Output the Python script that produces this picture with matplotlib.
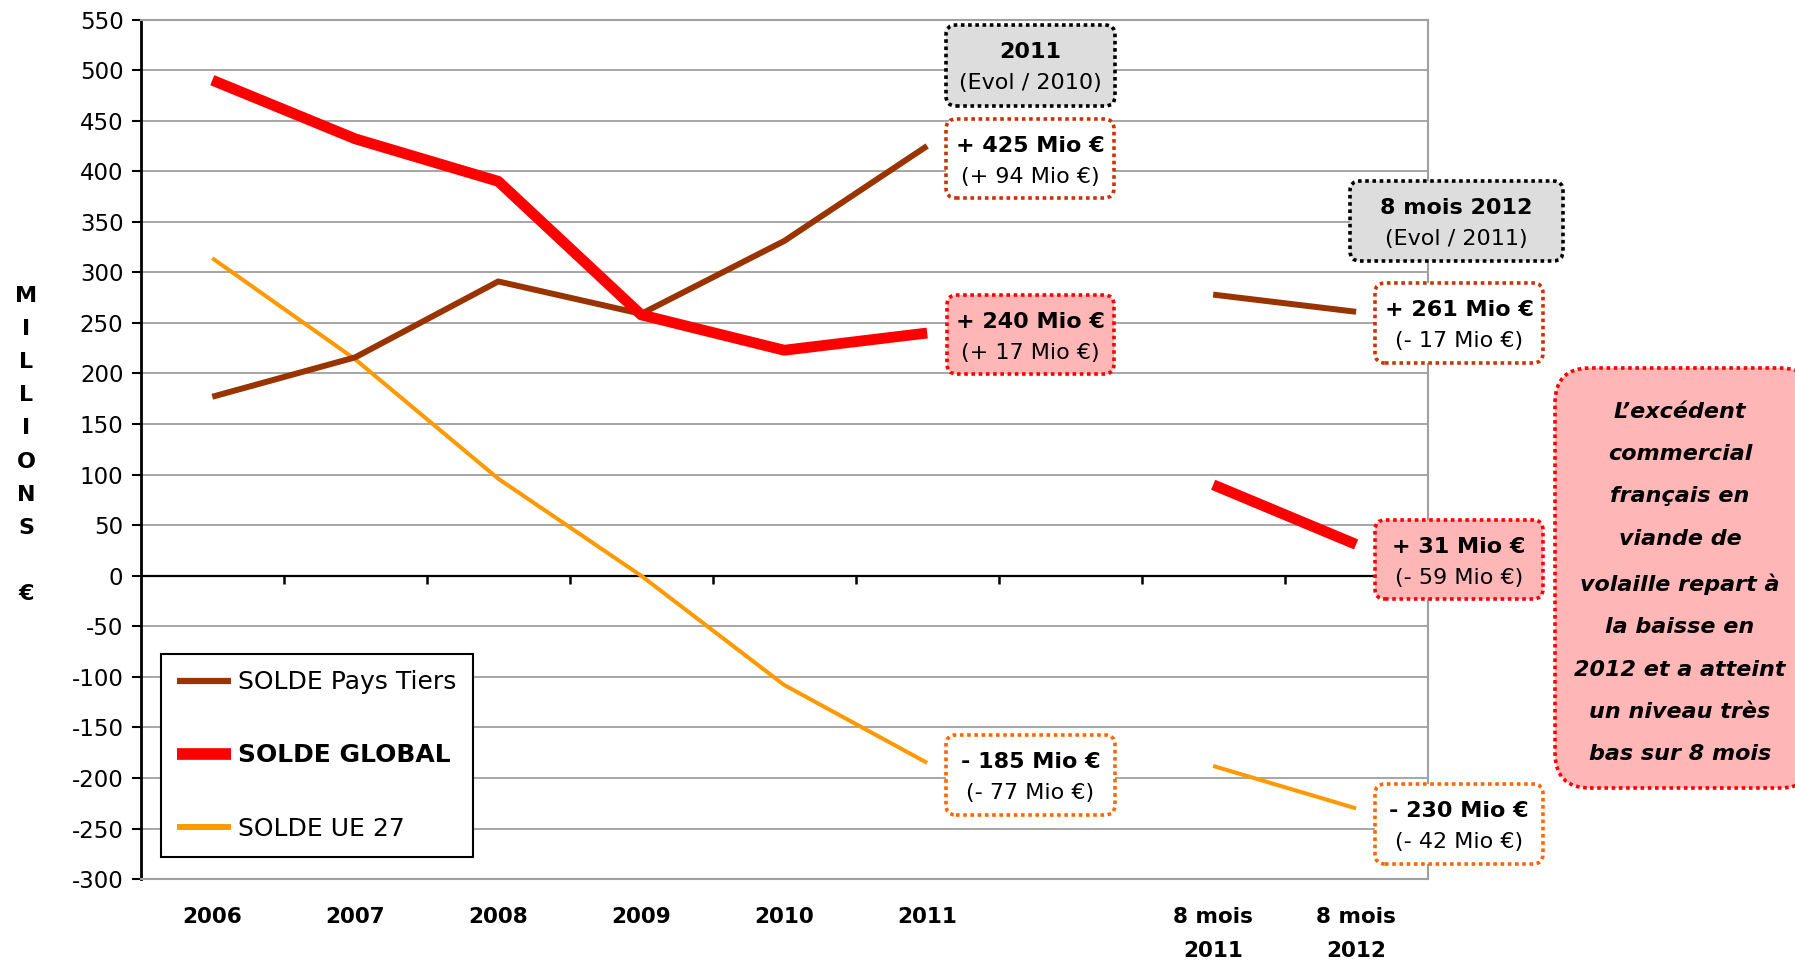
import matplotlib

matplotlib.use("Agg")
import matplotlib.pyplot as plt
import numpy as np
from matplotlib.lines import Line2D
from matplotlib.patches import FancyBboxPatch

categories = ["2006", "2007", "2008", "2009", "2010", "2011", "", "8 mois\n2011", "8 mois\n2012"]
pays_tiers = [177, 216, 291, 259, 331, 425, None, 278, 261]
solde_global = [490, 432, 390, 258, 223, 240, None, 90, 31]
solde_ue27 = [314, 214, 96, 0, -108, -185, None, -188, -230]
y_ticks = list(range(-300, 551, 50))
comment = [
    "L\u2019excédent",
    "commercial",
    "français en",
    "viande de",
    "volaille repart à",
    "la baisse en",
    "2012 et a atteint",
    "un niveau très",
    "bas sur 8 mois",
]

W, H = 1795, 964
C_TIERS = "#993300"
C_GLOBAL = "#FF0000"
C_UE = "#FF9900"
PINK = "#FFB6B6"
GREY_FILL = "#DDDDDD"
GRID = "#A6A6A6"


def as_array(values):
    return np.array([np.nan if v is None else v for v in values], dtype=float)


def mio(v):
    sign = "+" if v >= 0 else "-"
    return f"{sign} {abs(int(v))} Mio \u20ac"


fig = plt.figure(figsize=(W / 100, H / 100), dpi=100)
ax = fig.add_axes([140.8 / W, 1 - 879.2 / H, (1427.6 - 140.8) / W, (879.2 - 19.5) / H])

x = np.arange(len(categories))
ax.plot(x, as_array(solde_ue27), color=C_UE, lw=2.9, solid_capstyle="butt",
        solid_joinstyle="round", zorder=3)
ax.plot(x, as_array(pays_tiers), color=C_TIERS, lw=4.3, solid_capstyle="butt",
        solid_joinstyle="round", zorder=4)
ax.plot(x, as_array(solde_global), color=C_GLOBAL, lw=7.8, solid_capstyle="butt",
        solid_joinstyle="round", zorder=5)

ax.set_xlim(-0.5, len(categories) - 0.5)
ax.set_ylim(y_ticks[0], y_ticks[-1])
ax.set_yticks(y_ticks)
ax.set_yticklabels([str(t) for t in y_ticks])
ax.yaxis.grid(True, color=GRID, lw=1.4)
ax.set_axisbelow(True)
ax.tick_params(axis="y", direction="out", length=6.5, width=1.5, pad=6, labelsize=16.5)
ax.set_xticks(x)
ax.set_xticklabels(categories, fontweight="bold", fontsize=15.5)
ax.tick_params(axis="x", length=0, pad=20)
for lbl in ax.get_xticklabels():
    lbl.set_linespacing(1.9)

for side in ("top", "right", "bottom"):
    ax.spines[side].set_color("#A0A0A0")
    ax.spines[side].set_linewidth(1.5)
ax.spines["left"].set_color("black")
ax.spines["left"].set_linewidth(2)

# zero line with category separators
ax.axhline(0, color="black", lw=1.6, zorder=2)
zero_pos = (0 - y_ticks[0]) / (y_ticks[-1] - y_ticks[0])
sec = ax.secondary_xaxis(zero_pos)
sec.set_xticks(x[:-1] + 0.5)
sec.set_xticklabels([])
sec.tick_params(direction="out", length=6, width=1.8, color="black")
sec.spines["bottom"].set_visible(False)

# legend handles are drawn a bit thicker than the chart lines
handles = [
    Line2D([], [], color=C_TIERS, lw=4.5, solid_capstyle="butt"),
    Line2D([], [], color=C_GLOBAL, lw=8.4, solid_capstyle="butt"),
    Line2D([], [], color=C_UE, lw=4.3, solid_capstyle="butt"),
]
leg = ax.legend(
    handles,
    ["SOLDE Pays Tiers", "SOLDE GLOBAL", "SOLDE UE 27"],
    loc="upper left",
    bbox_to_anchor=(161 / W, 1 - 654 / H),
    bbox_transform=fig.transFigure,
    borderaxespad=0,
    fontsize=18,
    handlelength=2.15,
    handletextpad=0.3,
    labelspacing=1.97,
    borderpad=0.65,
    fancybox=False,
    framealpha=1,
    edgecolor="black",
)
leg.get_frame().set_linewidth(1.5)
leg.get_texts()[1].set_fontweight("bold")

# vertical y label
fig.text(26 / W, 1 - 445 / H, "\n".join(list("MILLIONS") + ["", "\u20ac"]),
         ha="center", va="center", fontsize=16, fontweight="bold", linespacing=1.82)


def box(x0, y0, x1, y1, face, edge, radius=10):
    patch = FancyBboxPatch(
        (x0 / 100, (H - y1) / 100), (x1 - x0) / 100, (y1 - y0) / 100,
        boxstyle=f"round,pad=0,rounding_size={radius / 100}",
        transform=fig.dpi_scale_trans, facecolor=face, edgecolor=edge,
        linewidth=2.6, linestyle=(0, (1, 1)), zorder=10,
    )
    fig.add_artist(patch)


def two_line_box(x0, y0, x1, y1, face, edge, top, bottom):
    box(x0, y0, x1, y1, face, edge)
    cx = (x0 + x1) / 2 / 100
    fig.text(cx, (H - y0 - 33) / 100, top, transform=fig.dpi_scale_trans, ha="center",
             va="baseline", fontsize=16, fontweight="bold", zorder=11)
    fig.text(cx, (H - y0 - 64) / 100, bottom, transform=fig.dpi_scale_trans, ha="center",
             va="baseline", fontsize=16, zorder=11)


two_line_box(946, 25, 1115, 106, GREY_FILL, "black", "2011", "(Evol / 2010)")
two_line_box(946, 119, 1114, 198, "white", "#CC3300",
             mio(pays_tiers[5]), f"({mio(pays_tiers[5] - pays_tiers[4])})")
two_line_box(947, 295, 1114, 374, PINK, C_GLOBAL,
             mio(solde_global[5]), f"({mio(solde_global[5] - solde_global[4])})")
two_line_box(946, 735, 1115, 815, "white", "#FF6600",
             mio(solde_ue27[5]), f"({mio(solde_ue27[5] - solde_ue27[4])})")

two_line_box(1350, 181, 1563, 261, GREY_FILL, "black", "8 mois 2012", "(Evol / 2011)")
two_line_box(1375, 283, 1543, 363, "white", "#CC3300",
             mio(pays_tiers[8]), f"({mio(pays_tiers[8] - pays_tiers[7])})")
two_line_box(1375, 520, 1543, 599, PINK, C_GLOBAL,
             mio(solde_global[8]), f"({mio(solde_global[8] - solde_global[7])})")
two_line_box(1375, 784, 1543, 864, "white", "#FF6600",
             mio(solde_ue27[8]), f"({mio(solde_ue27[8] - solde_ue27[7])})")

box(1555, 368, 1815, 788, PINK, C_GLOBAL, radius=35)
fig.text(1680 / 100, (H - 583) / 100, "\n".join(comment), transform=fig.dpi_scale_trans,
         ha="center", va="center", fontsize=16, fontweight="bold", fontstyle="italic",
         linespacing=2.4, zorder=11)

fig.savefig("out.png", dpi=100)
